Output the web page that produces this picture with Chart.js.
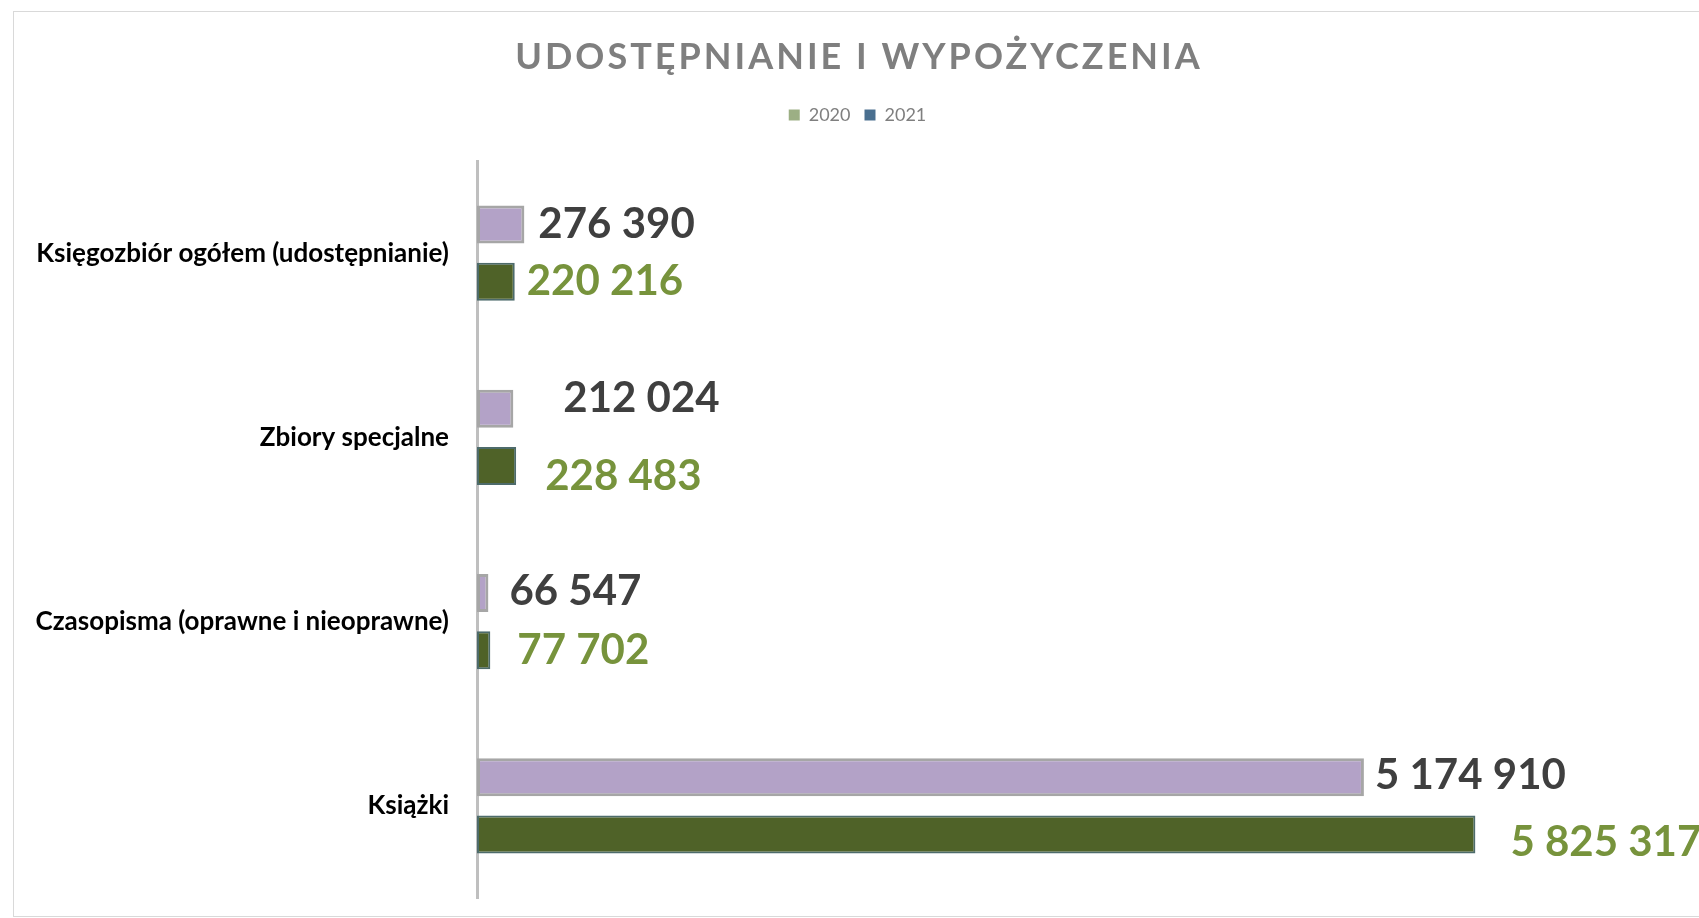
<!DOCTYPE html>
<html lang="pl">
<head>
<meta charset="utf-8">
<title>Udostępnianie i wypożyczenia</title>
<script src="https://cdn.jsdelivr.net/npm/chart.js@4/dist/chart.umd.min.js"></script>
<style>
    html, body { margin: 0; padding: 0; background: #ffffff; }
    canvas { display: block; }
</style>
</head>
<body>
<canvas id="loansChart" width="1699" height="918"></canvas>
<script>
// data
const categories = [
    'Księgozbiór ogółem (udostępnianie)',
    'Zbiory specjalne',
    'Czasopisma (oprawne i nieoprawne)',
    'Książki',
];
const seriesNames = ['2020', '2021'];
const values2020 = [276390, 212024, 66547, 5174910];
const values2021 = [220216, 228483, 77702, 5825317];

// label nudges (px) - the labels were moved by hand in the original
const labelDx2020 = [14, 50, 21, 11];
const labelDy2020 = [0, -10, -2, -2];
const labelDx2021 = [12, 29, 27, 35];
const labelDy2021 = [0, 11, 0, 8];

const titleText = 'UDOSTĘPNIANIE I WYPOŻYCZENIA';
const legendSwatches = ['#9caf84', '#4a6f8f'];

const TOP_PAD = 92;
const PLOT_TOP = 161;

function formatNumber(v) {
    return String(v).replace(/\B(?=(\d{3})+(?!\d))/g, ' ');
}

const backgroundPlugin = {
    id: 'background',
    beforeDraw(chart) {
        const ctx = chart.ctx;
        ctx.save();
        ctx.fillStyle = '#ffffff';
        ctx.fillRect(0, 0, chart.width, chart.height);
        ctx.strokeStyle = '#d9d9d9';
        ctx.lineWidth = 1;
        ctx.strokeRect(13.5, 11.5, chart.width, chart.height - 13);
        ctx.restore();
    },
};

// leave a gap under the legend, like in the original
const legendGapPlugin = {
    id: 'legendGap',
    beforeInit(chart) {
        const fit = chart.legend.fit;
        chart.legend.fit = function () {
            fit.call(this);
            this.height = PLOT_TOP - TOP_PAD;
        };
    },
};

const titlePlugin = {
    id: 'spacedTitle',
    afterDraw(chart) {
        const ctx = chart.ctx;
        ctx.save();
        ctx.font = 'bold 36px Lato';
        ctx.letterSpacing = '3px';
        ctx.fillStyle = '#7f7f7f';
        ctx.textAlign = 'center';
        ctx.textBaseline = 'alphabetic';
        ctx.fillText(titleText, 859, 69);
        ctx.restore();
    },
};

const valueLabelPlugin = {
    id: 'valueLabels',
    afterDatasetsDraw(chart) {
        const ctx = chart.ctx;
        const setup = [
            { dx: labelDx2020, dy: labelDy2020, color: '#3f3f3f' },
            { dx: labelDx2021, dy: labelDy2021, color: '#77933c' },
        ];
        ctx.save();
        ctx.font = 'bold 42px Lato';
        ctx.textAlign = 'left';
        ctx.textBaseline = 'middle';
        chart.data.datasets.forEach((ds, di) => {
            const meta = chart.getDatasetMeta(di);
            meta.data.forEach((bar, i) => {
                ctx.fillStyle = setup[di].color;
                ctx.fillText(formatNumber(ds.data[i]), bar.x + setup[di].dx[i], bar.y + setup[di].dy[i]);
            });
        });
        ctx.restore();
    },
};

new Chart(document.getElementById('loansChart'), {
    type: 'bar',
    data: {
        labels: categories,
        datasets: [
            {
                label: seriesNames[0],
                data: values2020,
                backgroundColor: '#b3a2c7',
                borderColor: '#a6a6a6',
                borderWidth: 3,
                borderSkipped: false,
            },
            {
                label: seriesNames[1],
                data: values2021,
                backgroundColor: '#4f6228',
                borderColor: '#4d6b6b',
                borderWidth: 2,
                borderSkipped: false,
            },
        ],
    },
    options: {
        indexAxis: 'y',
        responsive: false,
        animation: false,
        devicePixelRatio: 1,
        categoryPercentage: 0.62,
        barPercentage: 0.667,
        layout: { padding: { left: 16, right: 0, top: TOP_PAD, bottom: 20 } },
        plugins: {
            title: { display: false },
            tooltip: { enabled: false },
            legend: {
                position: 'top',
                labels: {
                    font: { family: 'Lato', size: 18 },
                    color: '#7f7f7f',
                    boxWidth: 11,
                    boxHeight: 11,
                    padding: 14,
                    generateLabels: () => seriesNames.map((name, i) => ({
                        text: name,
                        fillStyle: legendSwatches[i],
                        strokeStyle: legendSwatches[i],
                        lineWidth: 0,
                        fontColor: '#7f7f7f',
                        datasetIndex: i,
                    })),
                },
            },
        },
        scales: {
            x: {
                display: false,
                min: 0,
                max: 7130000,
            },
            y: {
                grid: { display: false, drawTicks: false },
                border: { display: true, color: '#bfbfbf', width: 3 },
                ticks: {
                    font: { family: 'Lato', size: 26, weight: 'bold' },
                    color: '#000000',
                    padding: 28,
                },
                afterFit(scale) {
                    scale.width = 461;
                    scale.paddingTop = 0;
                    scale.paddingBottom = 0;
                },
            },
        },
    },
    plugins: [backgroundPlugin, legendGapPlugin, titlePlugin, valueLabelPlugin],
});
</script>
</body>
</html>
